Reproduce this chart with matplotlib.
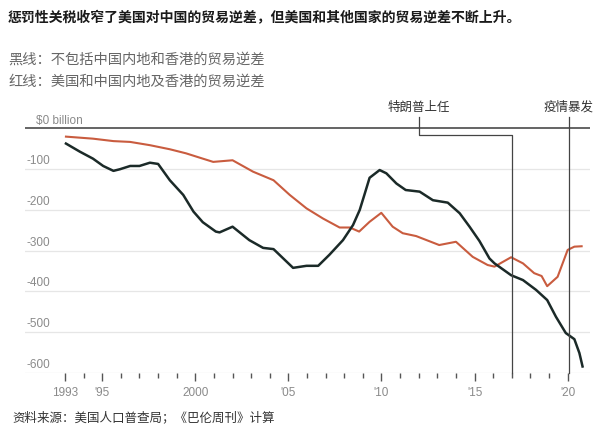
import numpy as np
import matplotlib.pyplot as plt
import matplotlib.transforms as mtransforms

plt.rcParams['font.family'] = ['Noto Sans CJK SC', 'DejaVu Sans']

# red: US deficit with mainland China + Hong Kong ($bn)
red_years = [1993.05, 1994.5, 1995.6, 1996.5, 1997.56, 1998.63, 1999.5, 2000.4,
             2000.96, 2002.0, 2003.1, 2004.2, 2005.07, 2005.97, 2006.86, 2007.75,
             2008.3, 2008.8, 2009.36, 2009.99, 2010.6, 2011.14, 2011.86, 2013.1,
             2014.0, 2014.9, 2015.7, 2016.07, 2016.96, 2017.6, 2018.2, 2018.6,
             2018.9, 2019.46, 2020.0, 2020.36, 2020.75]
red_vals = [-20, -25, -31, -33, -41, -51, -61, -74,
            -82, -78, -106, -127, -163, -196, -221, -243,
            -243, -253, -229, -207, -241, -257, -264, -286,
            -278, -315, -335, -339, -316, -331, -355, -362,
            -387, -364, -298, -290, -289]

# black: deficit excluding mainland China + Hong Kong ($bn)
blk_years = [1993.05, 1993.8, 1994.5, 1995.05, 1995.6, 1995.95, 1996.5, 1997.0,
             1997.56, 1998.0, 1998.63, 1999.35, 1999.9, 2000.4, 2001.1, 2001.3,
             2002.0, 2002.9, 2003.64, 2004.2, 2005.25, 2005.97, 2006.6, 2007.2,
             2007.93, 2008.47, 2008.83, 2009.1, 2009.36, 2009.9, 2010.26, 2010.8,
             2011.3, 2012.05, 2012.76, 2013.56, 2014.2, 2014.73, 2015.26, 2015.8,
             2016.07, 2016.96, 2017.6, 2018.3, 2018.9, 2019.37, 2019.9, 2020.36,
             2020.63, 2020.8]
blk_vals = [-37, -57, -74, -92, -104, -100, -92, -92,
            -84, -87, -127, -163, -204, -230, -253, -255,
            -241, -274, -293, -296, -342, -337, -337, -310,
            -274, -237, -200, -160, -121, -102, -110, -135,
            -151, -155, -176, -182, -208, -241, -276, -319,
            -331, -360, -372, -396, -421, -462, -502, -517,
            -551, -584]

grid_vals = [-100, -200, -300, -400, -500, -600]
year_ticks = [1993, 1995, 2000, 2005, 2010, 2015, 2020]
year_labels = ['1993', "'95", '2000', "'05", "'10", "'15", "'20"]

fig = plt.figure(figsize=(6, 4.43), dpi=100)
ax = fig.add_axes([25/600, 1 - 373/443, 565/600, 248.6/443])

for v in grid_vals:
    ax.axhline(v, color='#e6e6e6', lw=0.9, zorder=1)
ax.axhline(0, color='#4a4a4a', lw=1.2, zorder=2)

ax.plot(red_years, red_vals, color='#c95c3f', lw=1.5, zorder=3)
ax.plot(blk_years, blk_vals, color='#1b2a28', lw=1.8, zorder=4)

# event markers
ax.plot([2017, 2017, 2012, 2012], [-600, -16, -16, 28], color='#444444', lw=0.9,
        clip_on=False, zorder=5)
ax.plot([2020.05, 2020.05], [-600, 28], color='#444444', lw=0.9, clip_on=False, zorder=5)
ax.text(2012, 36, '特朗普上任', ha='center', va='bottom', fontsize=9, color='#333333')
ax.text(2020.05, 36, '疫情暴发', ha='center', va='bottom', fontsize=9, color='#333333')

ax.set_xlim(1990.85, 2021.2)
ax.set_ylim(-600, 10)

trans = mtransforms.blended_transform_factory(ax.transAxes, ax.transData)
ax.text(0.02, 4, '$0 billion', transform=trans, ha='left', va='bottom',
        fontsize=8.5, color='#8a8a8a', family='Liberation Sans')
for v in grid_vals:
    ax.text(0.003, v + 5, str(v), transform=trans, ha='left', va='bottom',
            fontsize=8.5, color='#8a8a8a', family='Liberation Sans')

ax.set_yticks([])
ax.set_xticks(year_ticks)
ax.set_xticklabels(year_labels, fontsize=8.5, color='#8a8a8a', family='Liberation Sans')
ax.set_xticks(range(1993, 2021), minor=True)
ax.tick_params(axis='x', which='major', length=6, width=1, color='#555555', pad=4)
ax.tick_params(axis='x', which='minor', length=3.5, width=1, color='#555555')
for s in ax.spines.values():
    s.set_visible(False)

fig.text(8/600, 1 - 18/443, '惩罚性关税收窄了美国对中国的贸易逆差，但美国和其他国家的贸易逆差不断上升。',
         fontsize=10, fontweight='bold', color='#1a1a1a', va='center')
fig.text(8/600, 1 - 60/443, '黑线：不包括中国内地和香港的贸易逆差', fontsize=10.3,
         color='#666666', va='center')
fig.text(8/600, 1 - 82/443, '红线：美国和中国内地及香港的贸易逆差', fontsize=10.3,
         color='#666666', va='center')
fig.text(12/600, 1 - 418/443, '资料来源：美国人口普查局；《巴伦周刊》计算', fontsize=9,
         color='#333333', va='center')

fig.savefig('out.png', dpi=100)
